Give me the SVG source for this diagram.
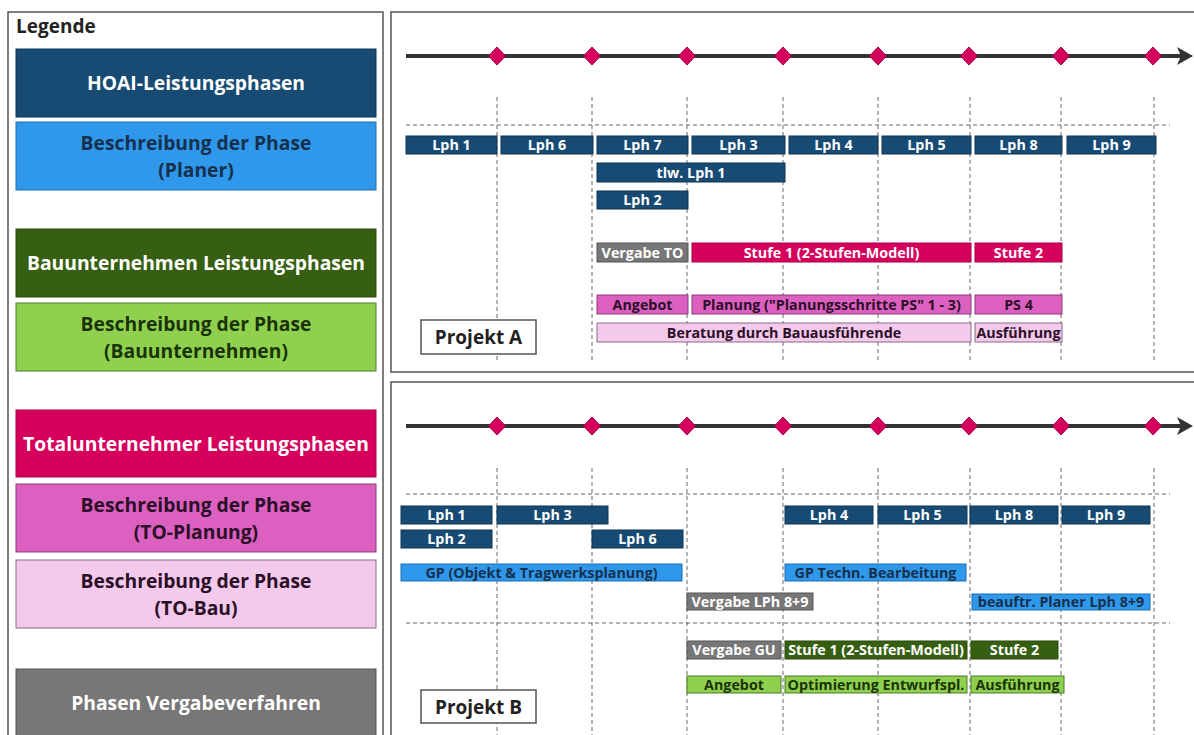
<svg xmlns="http://www.w3.org/2000/svg" width="1194" height="735" viewBox="0 0 1194 735">
<defs>
<style>
text{font-family:"Open Sans","Noto Sans","Liberation Sans",sans-serif;font-weight:700;text-anchor:middle}
.panel{fill:#fff;stroke:#555;stroke-width:1.5}
.grid{stroke:#666;stroke-width:1;stroke-dasharray:4 3;fill:none}
.axis{stroke:#333;stroke-width:4;fill:none}
.dia{fill:#d6005c;stroke:#a8004a;stroke-width:1}
.navy{fill:#174b73;stroke:#0f3554;stroke-width:1}
.blue{fill:#2f98ea;stroke:#1d6fb0;stroke-width:1}
.dgreen{fill:#375f11;stroke:#2a4a0c;stroke-width:1}
.lgreen{fill:#8fd14f;stroke:#4e7a26;stroke-width:1}
.crim{fill:#d6005c;stroke:#a8004a;stroke-width:1}
.orch{fill:#dc60c0;stroke:#8e3a7a;stroke-width:1}
.pink{fill:#f3c9ec;stroke:#8a6a85;stroke-width:1}
.gray{fill:#777;stroke:#555;stroke-width:1}
.tw{fill:#fff;font-size:14.3px}
.tnavy{fill:#17304d;font-size:14.3px}
.tdg{fill:#1b3308;font-size:14.3px}
.tdark{fill:#2b1028;font-size:14.3px}
.lg{font-size:19.3px}
.box{fill:#fff;stroke:#555;stroke-width:1.5}
</style>
</defs>
<rect width="1194" height="735" fill="#fff"/>

<!-- Legend -->
<g id="legend">
<rect class="panel" x="8" y="12" width="375" height="740"/>
<text x="16" y="33" style="text-anchor:start;font-size:19px;fill:#222">Legende</text>
<g id="leg-hoai"><rect class="navy" x="16" y="49" width="360" height="68"/><text class="lg" x="196" y="90" fill="#fff">HOAI-Leistungsphasen</text></g>
<g id="leg-planer"><rect class="blue" x="16" y="122" width="360" height="68"/><text class="lg" x="196" y="150" fill="#17304d">Beschreibung der Phase</text><text class="lg" x="196" y="177" fill="#17304d">(Planer)</text></g>
<g id="leg-bau"><rect class="dgreen" x="16" y="229" width="360" height="68"/><text class="lg" x="196" y="270" fill="#fff">Bauunternehmen Leistungsphasen</text></g>
<g id="leg-baub"><rect class="lgreen" x="16" y="303" width="360" height="68"/><text class="lg" x="196" y="331" fill="#1b3308">Beschreibung der Phase</text><text class="lg" x="196" y="358" fill="#1b3308">(Bauunternehmen)</text></g>
<g id="leg-to"><rect class="crim" x="16" y="410" width="360" height="67"/><text class="lg" x="196" y="451" fill="#fff">Totalunternehmer Leistungsphasen</text></g>
<g id="leg-top"><rect class="orch" x="16" y="484" width="360" height="68"/><text class="lg" x="196" y="512" fill="#2b1028">Beschreibung der Phase</text><text class="lg" x="196" y="539" fill="#2b1028">(TO-Planung)</text></g>
<g id="leg-tob"><rect class="pink" x="16" y="560" width="360" height="68"/><text class="lg" x="196" y="588" fill="#2b1028">Beschreibung der Phase</text><text class="lg" x="196" y="615" fill="#2b1028">(TO-Bau)</text></g>
<g id="leg-verg"><rect class="gray" x="16" y="669" width="360" height="80"/><text class="lg" x="196" y="710" fill="#fff">Phasen Vergabeverfahren</text></g>
</g>

<!-- Panels -->
<rect class="panel" x="391" y="12" width="810" height="360"/>
<rect class="panel" x="391" y="382" width="810" height="370"/>

<!-- Grid lines -->
<g id="grid">
<path class="grid" d="M497,97V360M592,97V360M687,97V360M783,97V360M878,97V360M970,97V360M1061,97V360M1154,97V360"/>
<path class="grid" d="M406,125H1170"/>
<path class="grid" d="M497,468V735M592,468V735M687,468V735M783,468V735M878,468V735M970,468V735M1061,468V735M1154,468V735"/>
<path class="grid" d="M406,494H1170M406,623H1170"/>
</g>

<!-- Timelines -->
<g id="connectors">
<path class="axis" d="M406,56H1182"/>
<path d="M1177,47L1193,56L1177,65L1181,56Z" fill="#333"/>
<path class="axis" d="M406,426H1182"/>
<path d="M1177,417L1193,426L1177,435L1181,426Z" fill="#333"/>
</g>
<g id="milestones">
<g id="msA">
<path class="dia" d="M497,47l8.5,9l-8.5,9l-8.5,-9Z"/>
<path class="dia" d="M592,47l8.5,9l-8.5,9l-8.5,-9Z"/>
<path class="dia" d="M687,47l8.5,9l-8.5,9l-8.5,-9Z"/>
<path class="dia" d="M783,47l8.5,9l-8.5,9l-8.5,-9Z"/>
<path class="dia" d="M878,47l8.5,9l-8.5,9l-8.5,-9Z"/>
<path class="dia" d="M969,47l8.5,9l-8.5,9l-8.5,-9Z"/>
<path class="dia" d="M1061,47l8.5,9l-8.5,9l-8.5,-9Z"/>
<path class="dia" d="M1153,47l8.5,9l-8.5,9l-8.5,-9Z"/>
</g>
<g id="msB">
<path class="dia" d="M497,417l8.5,9l-8.5,9l-8.5,-9Z"/>
<path class="dia" d="M592,417l8.5,9l-8.5,9l-8.5,-9Z"/>
<path class="dia" d="M687,417l8.5,9l-8.5,9l-8.5,-9Z"/>
<path class="dia" d="M783,417l8.5,9l-8.5,9l-8.5,-9Z"/>
<path class="dia" d="M878,417l8.5,9l-8.5,9l-8.5,-9Z"/>
<path class="dia" d="M969,417l8.5,9l-8.5,9l-8.5,-9Z"/>
<path class="dia" d="M1061,417l8.5,9l-8.5,9l-8.5,-9Z"/>
<path class="dia" d="M1153,417l8.5,9l-8.5,9l-8.5,-9Z"/>
</g>
</g>

<!-- Projekt A bars -->
<g id="projA">
<g id="a-lph1"><rect class="navy" x="406" y="136" width="91" height="18"/><text class="tw" x="451.5" y="150">Lph 1</text></g>
<g id="a-lph6"><rect class="navy" x="501" y="136" width="92" height="18"/><text class="tw" x="547" y="150">Lph 6</text></g>
<g id="a-lph7"><rect class="navy" x="597" y="136" width="91" height="18"/><text class="tw" x="642.5" y="150">Lph 7</text></g>
<g id="a-lph3"><rect class="navy" x="692" y="136" width="93" height="18"/><text class="tw" x="738.5" y="150">Lph 3</text></g>
<g id="a-lph4"><rect class="navy" x="789" y="136" width="89" height="18"/><text class="tw" x="833.5" y="150">Lph 4</text></g>
<g id="a-lph5"><rect class="navy" x="882" y="136" width="89" height="18"/><text class="tw" x="926.5" y="150">Lph 5</text></g>
<g id="a-lph8"><rect class="navy" x="975" y="136" width="87" height="18"/><text class="tw" x="1018.5" y="150">Lph 8</text></g>
<g id="a-lph9"><rect class="navy" x="1067" y="136" width="89" height="18"/><text class="tw" x="1111.5" y="150">Lph 9</text></g>
<g id="a-tlw"><rect class="navy" x="597" y="163" width="188" height="19"/><text class="tw" x="691" y="177.5">tlw. Lph 1</text></g>
<g id="a-lph2"><rect class="navy" x="597" y="191" width="91" height="18"/><text class="tw" x="642.5" y="205">Lph 2</text></g>
<g id="a-vto"><rect class="gray" x="597" y="243" width="91" height="19"/><text class="tw" x="642.5" y="257.5">Vergabe TO</text></g>
<g id="a-st1"><rect class="crim" x="692" y="243" width="279" height="19"/><text class="tw" x="831.5" y="257.5">Stufe 1 (2-Stufen-Modell)</text></g>
<g id="a-st2"><rect class="crim" x="975" y="243" width="87" height="19"/><text class="tw" x="1018.5" y="257.5">Stufe 2</text></g>
<g id="a-ang"><rect class="orch" x="597" y="295" width="91" height="19"/><text class="tdark" x="642.5" y="309.5">Angebot</text></g>
<g id="a-plan"><rect class="orch" x="692" y="295" width="279" height="19"/><text class="tdark" x="831.5" y="309.5">Planung ("Planungsschritte PS" 1 - 3)</text></g>
<g id="a-ps4"><rect class="orch" x="975" y="295" width="87" height="19"/><text class="tdark" x="1018.5" y="309.5">PS 4</text></g>
<g id="a-ber"><rect class="pink" x="597" y="323" width="374" height="19"/><text class="tdark" x="784" y="337.5">Beratung durch Bauausführende</text></g>
<g id="a-aus"><rect class="pink" x="975" y="323" width="87" height="19"/><text class="tdark" x="1018.5" y="337.5">Ausführung</text></g>
<g id="a-label"><rect class="box" x="421" y="320" width="115" height="34"/><text x="478.5" y="344" style="font-size:19px;fill:#222">Projekt A</text></g>
</g>

<!-- Projekt B bars -->
<g id="projB">
<g id="b-lph1"><rect class="navy" x="401" y="506" width="91" height="18"/><text class="tw" x="446.5" y="520">Lph 1</text></g>
<g id="b-lph3"><rect class="navy" x="497" y="506" width="111" height="18"/><text class="tw" x="552.5" y="520">Lph 3</text></g>
<g id="b-lph4"><rect class="navy" x="785" y="506" width="88" height="18"/><text class="tw" x="829" y="520">Lph 4</text></g>
<g id="b-lph5"><rect class="navy" x="878" y="506" width="89" height="18"/><text class="tw" x="922.5" y="520">Lph 5</text></g>
<g id="b-lph8"><rect class="navy" x="970" y="506" width="88" height="18"/><text class="tw" x="1014" y="520">Lph 8</text></g>
<g id="b-lph9"><rect class="navy" x="1062" y="506" width="88" height="18"/><text class="tw" x="1106" y="520">Lph 9</text></g>
<g id="b-lph2"><rect class="navy" x="401" y="530" width="91" height="18"/><text class="tw" x="446.5" y="544">Lph 2</text></g>
<g id="b-lph6"><rect class="navy" x="592" y="530" width="91" height="18"/><text class="tw" x="637.5" y="544">Lph 6</text></g>
<g id="b-gp"><rect class="blue" x="401" y="564" width="281" height="17"/><text class="tnavy" x="541.5" y="577.5">GP (Objekt &amp; Tragwerksplanung)</text></g>
<g id="b-gpt"><rect class="blue" x="785" y="564" width="181" height="17"/><text class="tnavy" x="875.5" y="577.5">GP Techn. Bearbeitung</text></g>
<g id="b-vlph"><rect class="gray" x="687" y="593" width="126" height="17"/><text class="tw" x="750" y="606.5">Vergabe LPh 8+9</text></g>
<g id="b-bpl"><rect class="blue" x="972" y="594" width="178" height="16"/><text class="tnavy" x="1061" y="607">beauftr. Planer Lph 8+9</text></g>
<g id="b-vgu"><rect class="gray" x="687" y="641" width="94" height="18"/><text class="tw" x="734" y="655">Vergabe GU</text></g>
<g id="b-st1"><rect class="dgreen" x="785" y="641" width="182" height="18"/><text class="tw" x="876" y="655">Stufe 1 (2-Stufen-Modell)</text></g>
<g id="b-st2"><rect class="dgreen" x="971" y="641" width="87" height="18"/><text class="tw" x="1014.5" y="655">Stufe 2</text></g>
<g id="b-ang"><rect class="lgreen" x="687" y="676" width="94" height="17"/><text class="tdg" x="734" y="690">Angebot</text></g>
<g id="b-opt"><rect class="lgreen" x="785" y="676" width="182" height="17"/><text class="tdg" x="876" y="690">Optimierung Entwurfspl.</text></g>
<g id="b-aus"><rect class="lgreen" x="971" y="676" width="93" height="17"/><text class="tdg" x="1017.5" y="690">Ausführung</text></g>
<g id="b-label"><rect class="box" x="421" y="690" width="115" height="33"/><text x="478.5" y="714" style="font-size:19px;fill:#222">Projekt B</text></g>
</g>
</svg>
